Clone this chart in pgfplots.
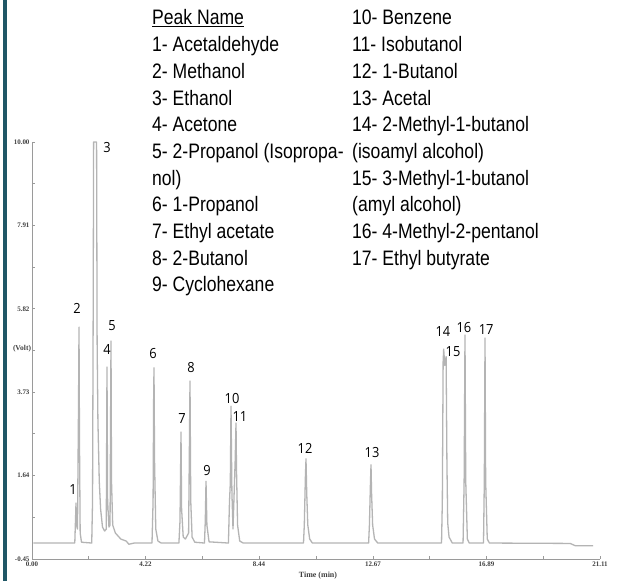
\documentclass[border=0pt]{standalone}
\usepackage{pgfplots}
\pgfplotsset{compat=1.18}
\usepackage{fontspec}
\setmainfont{Liberation Sans}
\newfontfamily\legf[FakeStretch=0.84]{Liberation Sans}
\newfontfamily\labf[FakeStretch=0.92]{Open Sans}
\newfontfamily\tickf{Liberation Serif}
\definecolor{barteal}{HTML}{1F5766}
\definecolor{sig}{HTML}{B4B4B4}
\definecolor{axc}{HTML}{9A9A9A}
\begin{document}
\begin{tikzpicture}[x=1bp,y=1bp]
\path[use as bounding box, fill=white] (0,0) rectangle (622,581);
\clip (0,0) rectangle (622,581);
\fill[barteal] (3,0) rectangle (6.5,581);
\begin{axis}[
  at={(32bp,22bp)}, anchor=south west,
  scale only axis, width=568bp, height=417bp,
  xmin=0, xmax=21.11, ymin=-0.45, ymax=10.00,
  axis x line=bottom, axis y line=left,
  axis line style={axc, line width=0.9bp, -},
  xtick={0,4.22,8.44,12.67,16.89,21.11},
  xticklabels={0.00,4.22,8.44,12.67,16.89,21.11},
  minor xtick={2.11,6.33,10.555,14.78,19.0},
  ytick={-0.45,1.64,3.73,5.82,7.91,10.00},
  yticklabels={-0.45,1.64,3.73,5.82,7.91,10.00},
  minor ytick={0.595,2.685,4.775,6.865,8.955},
  tick align=inside,
  major tick length=3bp, minor tick length=3bp,
  tick style={axc, line width=0.8bp},
  ticklabel style={font=\tickf\bfseries\fontsize{7}{8}\selectfont, text=black!75},
  xticklabel style={yshift=1bp},
  yticklabel style={xshift=1bp},
  clip=false,
]
\addplot[sig, line width=1.3bp, line join=round] coordinates {
(0.05,-0.05) (1.59,-0.05) (1.62,0.6) (1.635,0.95) (1.655,0.4) (1.69,0.3)
(1.73,3.5) (1.747,5.36) (1.765,2.5) (1.79,0.2) (1.84,-0.03) (2.22,-0.05)
(2.25,1.0) (2.275,6.0) (2.29,10.0) (2.40,10.0) (2.42,5.0) (2.45,3.0) (2.50,1.5)
(2.55,0.8) (2.62,0.35) (2.70,0.25) (2.76,0.3) (2.787,4.36) (2.81,1.0)
(2.86,0.35) (2.90,0.4) (2.92,3.0) (2.936,5.01) (2.955,1.5) (3.0,0.4)
(3.1,0.2) (3.3,0.05) (3.5,0.0) (3.6,-0.08) (3.8,-0.05) (4.46,-0.05)
(4.50,1.0) (4.52,3.5) (4.534,4.34) (4.555,2.0) (4.60,0.3) (4.68,0.0)
(4.80,-0.05) (5.46,-0.05) (5.50,0.5) (5.538,2.73) (5.56,0.8) (5.62,0.1)
(5.70,0.05) (5.82,0.2) (5.872,4.01) (5.90,1.0) (5.95,0.1) (6.05,-0.03)
(6.41,-0.05) (6.44,0.5) (6.467,1.50) (6.50,0.4) (6.58,-0.02) (7.30,-0.05)
(7.34,1.0) (7.37,1.45) (7.396,3.38) (7.43,1.2) (7.47,0.3) (7.55,2.0)
(7.582,2.96) (7.60,1.8) (7.64,0.4) (7.72,0.0) (7.85,-0.05) (10.09,-0.05)
(10.12,0.4) (10.16,1.6) (10.183,2.06) (10.21,1.2) (10.25,0.4) (10.32,0.05)
(10.42,-0.05) (12.51,-0.05) (12.54,0.4) (12.58,1.5) (12.599,1.91)
(12.62,1.2) (12.66,0.4) (12.73,0.05) (12.85,-0.05) (15.22,-0.05)
(15.25,1.0) (15.28,4.5) (15.30,4.81) (15.34,4.4) (15.39,4.62) (15.42,2.0)
(15.45,0.45) (15.50,0.1) (15.62,-0.05) (16.02,-0.05) (16.06,1.5)
(16.092,5.16) (16.12,1.5) (16.18,0.05) (16.25,-0.05) (16.78,-0.05)
(16.81,1.5) (16.836,5.09) (16.86,1.5) (16.92,0.05) (17.0,-0.05)
(20.0,-0.06) (20.2,-0.12) (20.85,-0.12)
};
\begin{scope}[font=\labf\fontsize{14}{14}\selectfont]
\node at (axis cs:1.524,1.28) {1};
\node at (axis cs:1.672,5.84) {2};
\node at (axis cs:2.787,9.85) {3};
\node at (axis cs:2.787,4.79) {4};
\node at (axis cs:2.973,5.41) {5};
\node at (axis cs:4.497,4.69) {6};
\node at (axis cs:5.575,3.06) {7};
\node at (axis cs:5.909,4.34) {8};
\node at (axis cs:6.504,1.76) {9};
\node at (axis cs:7.433,3.58) {10};
\node at (axis cs:7.730,3.13) {11};
\node at (axis cs:10.146,2.31) {12};
\node at (axis cs:12.636,2.23) {13};
\node at (axis cs:15.27,5.24) {14};
\node at (axis cs:15.647,4.74) {15};
\node at (axis cs:16.05,5.34) {16};
\node at (axis cs:16.88,5.31) {17};
\end{scope}
\end{axis}
\node[font=\tickf\bfseries\fontsize{7.5}{8}\selectfont, text=black!75] at (22,232) {(Volt)};
\node[font=\tickf\bfseries\fontsize{8}{9}\selectfont, text=black!75] at (318,5) {Time (min)};
\foreach \t [count=\i from 0] in {{\underline{Peak Name}},{1- Acetaldehyde},{2- Methanol},{3- Ethanol},{4- Acetone},{5- 2-Propanol (Isopropa-},{nol)},{6- 1-Propanol},{7- Ethyl acetate},{8- 2-Butanol},{9- Cyclohexane}}
  \node[anchor=base west, inner sep=0pt, font=\legf\fontsize{21}{21}\selectfont] at (152,{581-25-26.7*\i}) {\t};
\foreach \t [count=\i from 0] in {{10- Benzene},{11- Isobutanol},{12- 1-Butanol},{13- Acetal},{14- 2-Methyl-1-butanol},{(isoamyl alcohol)},{15- 3-Methyl-1-butanol},{(amyl alcohol)},{16- 4-Methyl-2-pentanol},{17- Ethyl butyrate}}
  \node[anchor=base west, inner sep=0pt, font=\legf\fontsize{21}{21}\selectfont] at (352,{581-25-26.7*\i}) {\t};
\end{tikzpicture}
\end{document}
